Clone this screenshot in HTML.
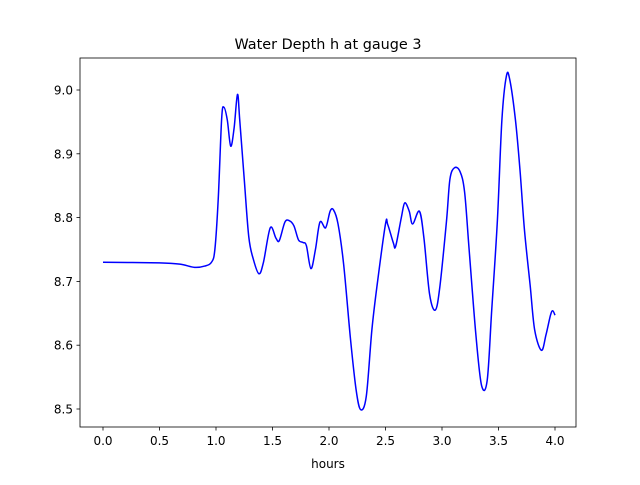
<!DOCTYPE html>
<html><head><meta charset="utf-8"><style>
body{margin:0;background:#fff;}
svg text{font-family:"DejaVu Sans","Liberation Sans",sans-serif;fill:#000;}
</style></head><body>
<svg id="chart" width="640" height="480" xmlns="http://www.w3.org/2000/svg">
<rect width="640" height="480" fill="#fff"/>
<text x="328" y="49" font-size="14.4" text-anchor="middle">Water Depth h at gauge 3</text>
<text x="328" y="468" font-size="12" text-anchor="middle">hours</text>
<g id="ticks"></g>
<path id="line" fill="none" stroke="#0000ff" stroke-width="1.5" stroke-linejoin="round"/>
<rect x="80" y="58" width="496" height="369" fill="none" stroke="#000" stroke-width="0.8"/>
</svg>
<script>
const hours=[0,0.5,0.68,0.81,0.9,0.96,0.99,1.02,1.05,1.07,1.1,1.13,1.16,1.19,1.21,1.25,1.29,1.33,1.38,1.42,1.48,1.53,1.56,1.61,1.65,1.69,1.73,1.77,1.8,1.84,1.88,1.92,1.97,2.01,2.04,2.08,2.13,2.19,2.24,2.28,2.33,2.38,2.43,2.5,2.52,2.57,2.59,2.64,2.67,2.71,2.74,2.8,2.84,2.89,2.94,2.98,3.04,3.07,3.11,3.16,3.2,3.24,3.3,3.35,3.4,3.44,3.49,3.53,3.57,3.6,3.65,3.69,3.73,3.78,3.82,3.88,3.92,3.96,3.98,4.0];
const depth=[8.730,8.729,8.727,8.722,8.724,8.730,8.75,8.83,8.955,8.973,8.953,8.912,8.94,8.993,8.953,8.86,8.77,8.735,8.712,8.73,8.784,8.768,8.764,8.793,8.795,8.787,8.765,8.761,8.756,8.72,8.75,8.793,8.784,8.81,8.812,8.79,8.726,8.61,8.53,8.499,8.52,8.625,8.70,8.79,8.789,8.76,8.755,8.80,8.823,8.81,8.79,8.81,8.768,8.68,8.655,8.69,8.795,8.86,8.878,8.872,8.84,8.75,8.616,8.537,8.545,8.655,8.795,8.953,9.022,9.016,8.953,8.875,8.78,8.694,8.624,8.592,8.616,8.647,8.654,8.647];
const xTicks=[0,0.5,1.0,1.5,2.0,2.5,3.0,3.5,4.0];
const xTickLabels=["0.0","0.5","1.0","1.5","2.0","2.5","3.0","3.5","4.0"];
const yTicks=[8.5,8.6,8.7,8.8,8.9,9.0];
const yTickLabels=["8.5","8.6","8.7","8.8","8.9","9.0"];
function X(v){return 103+v*113;}
function Y(v){return 90+(9.0-v)*638;}
const NS="http://www.w3.org/2000/svg";
const g=document.getElementById('ticks');
function mk(t,a){const e=document.createElementNS(NS,t);for(const k in a)e.setAttribute(k,a[k]);return e;}
xTicks.forEach((v,i)=>{
 const l=mk('line',{x1:X(v),x2:X(v),y1:427,y2:430.5,stroke:'#000','stroke-width':0.8});
 
 
 g.appendChild(l);
 const t=mk('text',{x:X(v),y:445,'font-size':12,'text-anchor':'middle'});
 
 
 t.textContent=xTickLabels[i];g.appendChild(t);
});
yTicks.forEach((v,i)=>{
 const l=mk('line',{x1:76.5,x2:80,y1:Y(v),y2:Y(v),stroke:'#000','stroke-width':0.8});
 
 
 g.appendChild(l);
 const t=mk('text',{x:73,y:Y(v)+4.5,'font-size':12,'text-anchor':'end'});
 
 
 t.textContent=yTickLabels[i];g.appendChild(t);
});
// Catmull-Rom smoothing through data points
const P=hours.map((h,i)=>[X(h),Y(depth[i])]);
let d='M'+P[0][0]+','+P[0][1];
for(let i=0;i<P.length-1;i++){
 const p0=P[Math.max(i-1,0)],p1=P[i],p2=P[i+1],p3=P[Math.min(i+2,P.length-1)];
 const c1=[p1[0]+(p2[0]-p0[0])/6,p1[1]+(p2[1]-p0[1])/6];
 const c2=[p2[0]-(p3[0]-p1[0])/6,p2[1]-(p3[1]-p1[1])/6];
 d+=' C'+c1[0]+','+c1[1]+' '+c2[0]+','+c2[1]+' '+p2[0]+','+p2[1];
}
document.getElementById('line').setAttribute('d',d);
</script>
</body></html>
